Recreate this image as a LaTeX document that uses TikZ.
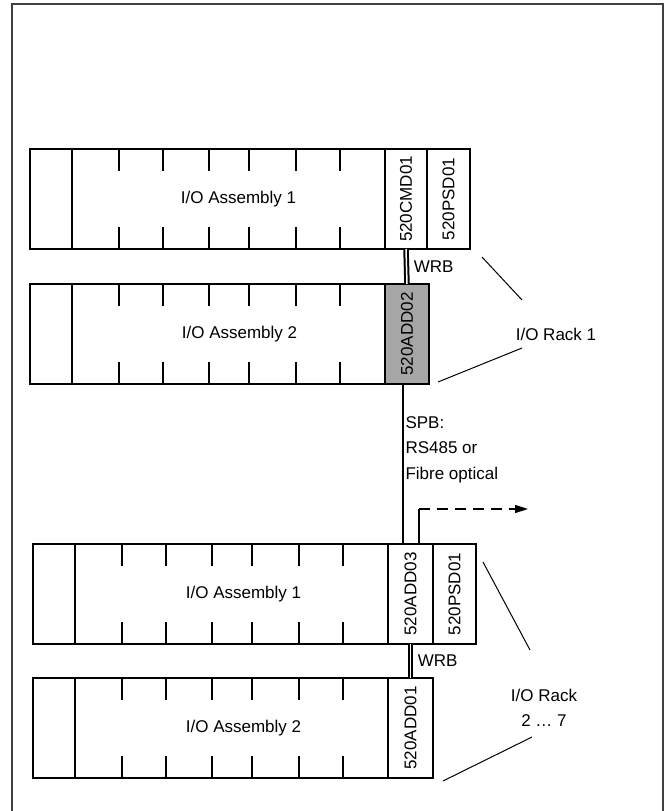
\documentclass[tikz,border=0pt]{standalone}
\usepackage{fontspec}
\setmainfont{Liberation Sans}
\usepackage{graphicx}
\usetikzlibrary{positioning,arrows.meta}

\definecolor{cardgray}{RGB}{166,166,166}
\definecolor{framegray}{RGB}{64,64,64}

\newcommand{\ioslots}[1]{%
    \draw[divider] ([xshift=42pt]#1.north west) -- ([xshift=42pt]#1.south west);
    \foreach \x in {89,133,179,219,266,310} {
        \draw[divider] ([xshift=\x pt]#1.north west) -- ++(0,22);
        \draw[divider] ([xshift=\x pt]#1.south west) -- ++(0,-22);
    }%
}

\begin{document}
\begin{tikzpicture}[x=1pt, y=-1pt,
    every node/.style={font=\fontsize{17}{25.5}\selectfont},
    slot/.style={draw, line width=2pt, inner sep=0pt, outer sep=0pt, minimum height=100pt},
    card/.style={slot, minimum width=44pt},
    divider/.style={line width=1.5pt},
    wrb/.style={double, line width=2pt, double distance=1.5pt},
    bus/.style={line width=1.4pt},
    fibre/.style={line width=1.4pt, dash pattern=on 11pt off 7pt, -{Triangle[length=13pt, width=8pt]}},
    pointer/.style={line width=1pt}]
    \useasboundingbox (0,0) rectangle (669,811);
    \draw[framegray, line width=2pt] (12,811) -- (12,4) -- (663,4) -- (663,811);

    % I/O Rack 1
    \node[slot, minimum width=355pt, anchor=north west] (asmA1) at (30,149) {};
    \node[card, minimum width=42pt, right=0pt of asmA1] (cmdA) {\rotatebox{90}{520CMD01}};
    \node[card, minimum width=43pt, right=0pt of cmdA] (psdA) {\rotatebox{90}{520PSD01}};
    \node[xshift=31pt] (asmA1txt) at (asmA1) {I/O Assembly 1};
    \ioslots{asmA1}

    \node[slot, minimum width=355pt, anchor=north west] (asmA2) at (30,284) {};
    \node[card, fill=cardgray, right=0pt of asmA2] (addA) {\rotatebox{90}{520ADD02}};
    \node[xshift=32pt] (asmA2txt) at (asmA2) {I/O Assembly 2};
    \ioslots{asmA2}

    \draw[wrb] (cmdA.south) -- (addA.north) node[midway, right=3pt] (wrbA) {WRB};

    \node (rackA) at (556,334) {I/O Rack 1};
    \draw[pointer] (482,257) -- (522,300);
    \draw[pointer] (438,382) -- (522,348);

    % I/O Rack 2 ... 7
    \node[slot, minimum width=355pt, anchor=north west] (asmB1) at (33,544) {};
    \node[card, minimum width=45pt, right=0pt of asmB1] (addB) {\rotatebox{90}{520ADD03}};
    \node[card, minimum width=43pt, right=0pt of addB] (psdB) {\rotatebox{90}{520PSD01}};
    \node[xshift=33pt] (asmB1txt) at (asmB1) {I/O Assembly 1};
    \ioslots{asmB1}

    \node[slot, minimum width=355pt, anchor=north west] (asmB2) at (33,678) {};
    \node[card, minimum width=45pt, right=0pt of asmB2] (addC) {\rotatebox{90}{520ADD01}};
    \node[xshift=33pt] (asmB2txt) at (asmB2) {I/O Assembly 2};
    \ioslots{asmB2}

    \draw[wrb] (addB.south) -- (addC.north) node[midway, right=3pt] (wrbB) {WRB};

    \node[align=center] (rackB) at (544,708) {I/O Rack\\2 … 7};
    \draw[pointer] (483,562) -- (530,650);
    \draw[pointer] (443,781) -- (532,737);

    % SPB between the racks
    \coordinate (spbA) at ([xshift=-4pt]addA.south);
    \draw[bus] (spbA) -- (spbA |- addB.north);
    \node[align=left, anchor=north west] (spbtxt) at (402,413) {SPB:\\RS485 or\\Fibre optical};

    \coordinate (fibreA) at ([xshift=8.5pt]addB.north);
    \coordinate (fibreB) at (419,509);
    \coordinate (fibreC) at (528,509);
    \draw[bus] (fibreA) -- (fibreB);
    \draw[fibre] (fibreB) -- (fibreC);
\end{tikzpicture}
\end{document}
